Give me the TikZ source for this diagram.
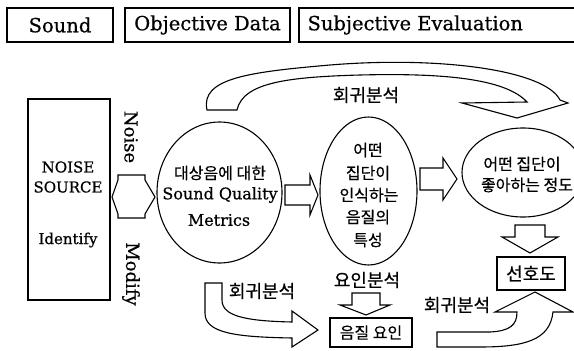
\documentclass[tikz,border=0pt]{standalone}
\usepackage{fontspec}
\setmainfont{DejaVu Serif}[FakeBold=0.6]
\newfontfamily\kr{Noto Sans CJK KR}[FakeBold=0.5]
\usetikzlibrary{shapes.geometric}
\begin{document}
\begin{tikzpicture}[x=1pt,y=-1pt, line width=1.1pt, line join=miter,
  hdr/.style={draw, minimum height=34pt, font=\fontsize{19.5}{20}\selectfont, inner sep=0pt},
  ell/.style={draw, ellipse, inner sep=0pt},
  lat/.style={font=\fontsize{16}{18}\selectfont, inner sep=0pt},
  latrot/.style={font=\fontsize{18}{18}\selectfont, inner sep=0pt, rotate=-90},
  latsm/.style={font=\fontsize{15}{17}\selectfont, inner sep=0pt},
  kor/.style={font=\kr\fontsize{16}{17}\selectfont, inner sep=0pt},
  korbig/.style={font=\kr\fontsize{18}{20}\selectfont, inner sep=0pt},
  blk/.style={draw, fill=white},
]
\useasboundingbox (0,0) rectangle (574,351);
\clip (0,0) rectangle (574,351);

% header
\node[hdr, minimum width=106pt] (snd) at (60,25) {Sound};
\node[hdr, minimum width=165pt] (obj) at (207.5,25) {Objective Data};
\draw (299,8) rectangle (580,42);
\node[anchor=west, font=\fontsize{19.5}{20}\selectfont, inner sep=0pt] (subj) at (307,25) {Subjective Evaluation};

% noise source box
\node[draw, minimum width=82pt, minimum height=201pt] (src) at (69,199.5) {};
\node[latsm] (t1) at (68,167) {NOISE};
\node[latsm] (t2) at (68,187) {SOURCE};
\node[latsm] (t3) at (68,240) {Identify};

% noise / modify
\node[latrot] (noise) at (131,137) {Noise};
\node[latrot] (modify) at (131,274) {Modify};
\draw[blk] (118,175) -- (145,175) -- (145,180) -- (155,197) -- (145,214) -- (145,218)
  -- (118,218) -- (118,214) -- (112,197) -- (118,180) -- cycle;

% ellipses
\node[ell, minimum width=125pt, minimum height=141pt] (e1) at (219.5,192.5) {};
\node[ell, minimum width=97pt, minimum height=148pt] (e2) at (368.5,191) {};
\node[ell, minimum width=122pt, minimum height=89pt] (e3) at (523,172.5) {};

\node[kor] (e1a) at (220,173) {대상음에 대한};
\node[lat] (e1b) at (220,195) {Sound Quality};
\node[lat] (e1c) at (219,220) {Metrics};

\node[kor] (e2a) at (368,150) {어떤};
\node[kor] (e2b) at (368,173) {집단이};
\node[kor] (e2c) at (369,195) {인식하는};
\node[kor] (e2d) at (368,217) {음질의};
\node[kor] (e2e) at (368,240) {특성};

\node[kor] (e3a) at (522,164) {어떤 집단이};
\node[kor] (e3b) at (527,185) {좋아하는 정도};

% straight block arrows
\draw[blk] (285,185) -- (310,185) -- (310,175) -- (318,195) -- (310,215) -- (310,205) -- (285,205) -- cycle;
\draw[blk] (420,168) -- (443,168) -- (443,158) -- (457,179) -- (443,200) -- (443,190) -- (420,190) -- cycle;
\draw[blk] (515,225) -- (545,225) -- (545,237) -- (558,237) -- (530,253) -- (502,237) -- (515,237) -- cycle;
\draw[blk] (352,293) -- (380,293) -- (380,305) -- (390,305) -- (366,315) -- (340,305) -- (352,305) -- cycle;

% boxes
\node[draw, minimum width=82pt, minimum height=29pt, kor] (fac) at (371,332.5) {음질 요인};
\node[draw, minimum width=68pt, minimum height=33pt, korbig] (pref) at (531,273.5) {선호도};

% curved arrows
\draw[blk] (207,110) .. controls (200,78) and (250,72) .. (330,65)
  .. controls (440,56) and (545,70) .. (560,100) -- (568,103) -- (517,118) -- (462,103) -- (527,102)
  .. controls (505,78) and (440,73) .. (360,75) .. controls (290,77) and (243,82) .. (237,110) -- cycle;
\draw[blk] (205,283) -- (205,313) .. controls (205,333) and (235,337) .. (292,338) -- (292,347)
  -- (318,330) -- (292,311) -- (292,322) .. controls (245,321) and (222,316) .. (222,300) -- (222,283) -- cycle;
\draw[blk] (437,332) -- (490,332) .. controls (510,331) and (517,325) .. (517,312) -- (495,312)
  -- (535,292) -- (573,312) -- (553,312) .. controls (550,340) and (525,347) .. (480,347) -- (437,347) -- cycle;

% labels
\node[korbig] (l1) at (366,95) {회귀분석};
\node[korbig] (l2) at (262,291) {회귀분석};
\node[korbig] (l3) at (367,280) {요인분석};
\node[korbig] (l4) at (457,305) {회귀분석};
\end{tikzpicture}
\end{document}
